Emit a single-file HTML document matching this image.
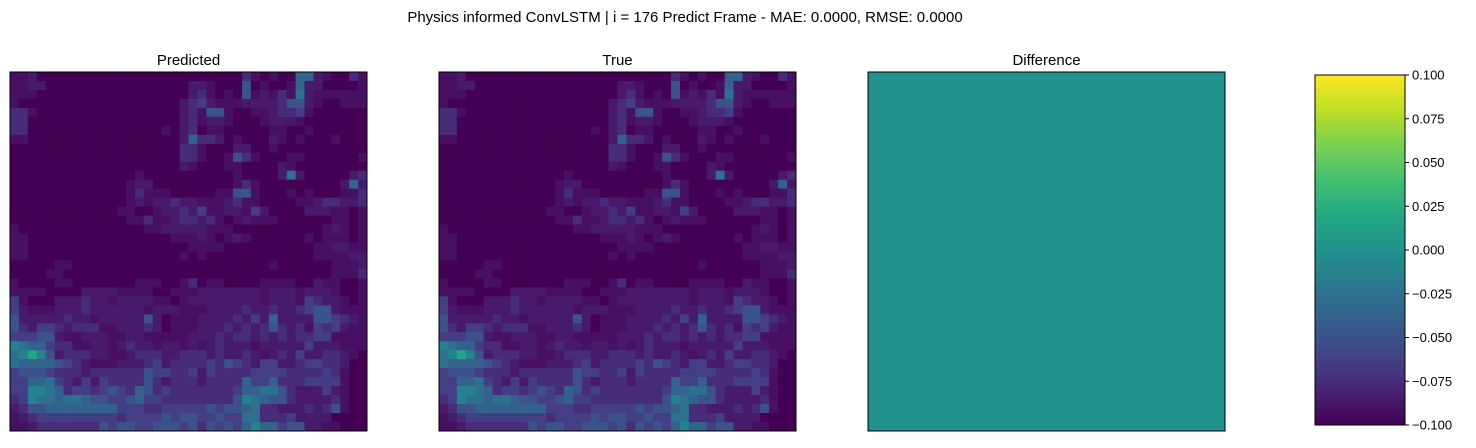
<!DOCTYPE html>
<html><head><meta charset="utf-8"><style>
body{margin:0;background:#fff;font-family:"Liberation Sans",sans-serif;}
svg text{font-family:"Liberation Sans",sans-serif;fill:#000}
</style></head><body>
<svg width="1476" height="443" viewBox="0 0 1476 443">
<defs><linearGradient id="vir" x1="0" y1="1" x2="0" y2="0">
<stop offset="0" stop-color="#440154"/><stop offset="0.1" stop-color="#482475"/><stop offset="0.2" stop-color="#414487"/><stop offset="0.3" stop-color="#355f8d"/><stop offset="0.4" stop-color="#2a788e"/><stop offset="0.5" stop-color="#21918c"/><stop offset="0.6" stop-color="#22a884"/><stop offset="0.7" stop-color="#44bf70"/><stop offset="0.8" stop-color="#7ad151"/><stop offset="0.9" stop-color="#bddf26"/><stop offset="1" stop-color="#fde725"/>
</linearGradient></defs>
<text x="685" y="22" text-anchor="middle" font-size="15">Physics informed ConvLSTM | i = 176 Predict Frame - MAE: 0.0000, RMSE: 0.0000</text>
<text x="188.5" y="65" text-anchor="middle" font-size="15">Predicted</text>
<text x="617.5" y="65" text-anchor="middle" font-size="15">True</text>
<text x="1046.5" y="65" text-anchor="middle" font-size="15">Difference</text>
<g id="pred"></g>
<g id="true"></g>
<rect x="10" y="72" width="357" height="359" fill="none" stroke="#000"/>
<rect x="439" y="72" width="357" height="359" fill="none" stroke="#000"/>
<rect x="868" y="72" width="357" height="359" fill="#21918c" stroke="#000"/>
<rect x="1315" y="75" width="90" height="350" fill="url(#vir)" stroke="#000"/>
<g id="cbticks"></g>
</svg>
<script>
const rows = [
"1120000000000000000000000031010066210031",
"1122000000000000000022100050100162200001",
"1110000000000000000023101051213172111111",
"1000000000000000000234211122223552100111",
"3310000000000000000231551001123341000000",
"3300000000000000000231221000122210000000",
"3300000000000000010230110000011001000000",
"1100000000000000000263320100021010001000",
"0000000000000000000331000220010000000000",
"0000000000000000000331001531000110000001",
"0000000000000000000210001100002100000000",
"0000000000000010000000000100002720000023",
"0000000000000122000000000131000000000262",
"0000000000000131110000011551000101000113",
"0000000000000121223221112311000011233223",
"0000000000001100122324112214200002221101",
"0000000000000113112332310121110000001101",
"1000000000000001122222111000000000012101",
"1100000000000000001112101210000001011101",
"1100000000000000000011110000000000112211",
"1100000000000000000101000000000000111122",
"0000011000000000000000000000010000001112",
"0000110000000000000000000000000000001113",
"1000011000000011100130110000111100211001",
"1111000022221111001112222222122212221001",
"4100022232212222110122222222122214322101",
"4211122232222221222111222232232234552111",
"5222223221222225201112222324262222554321",
"5324432333112223201112223232353231434211",
"4445521122211221111122232332323233441111",
"8766433112212322122121232221222224222111",
"7898523332211233322333232232123242233210",
"7666654321112223423333435432442234433200",
"4555433323333335443342433334444333343100",
"4466743242433335323332333364463334444100",
"4488763443454365343333333466775322242100",
"3487767765544564433333333587655322223100",
"2355666666664443344444545567332223235100",
"1234444444443444454554454477333422220000",
"1123333333545544555453545468664552211000"];
const tickValues = [0.100,0.075,0.050,0.025,0.000,-0.025,-0.050,-0.075,-0.100];
const palette = ["#440154","#471063","#481a6c","#472c7a","#433e85","#3b528b","#33638d","#2c728e","#26828e","#21a685"];
const NS="http://www.w3.org/2000/svg";
function draw(gid,x0,y0,w,h,name){
  const g=document.getElementById(gid);
  const n=rows.length, cw=w/40, ch=h/n;
  rows.forEach((r,i)=>{
    for(let j=0;j<40;j++){
      const v=+(r[j]||0);
      const c=document.createElementNS(NS,'rect');
      c.setAttribute('x',x0+j*cw);c.setAttribute('y',y0+i*ch);
      c.setAttribute('width',cw+0.5);c.setAttribute('height',ch+0.5);
      c.setAttribute('fill',palette[v]);
      
      
      g.appendChild(c);
    }
  });
}
draw('pred',10,72,357,359);
draw('true',439,72,357,359);
const tg=document.getElementById('cbticks');
const yOf=v=>75+(0.1-v)/0.2*350;
tickValues.forEach(v=>{
  const y=yOf(v);
  const l=document.createElementNS(NS,'line');
  l.setAttribute('x1',1405);l.setAttribute('x2',1409);l.setAttribute('y1',y);l.setAttribute('y2',y);l.setAttribute('stroke','#000');
  
  
  tg.appendChild(l);
  const t=document.createElementNS(NS,'text');
  t.setAttribute('x',1412);t.setAttribute('y',y+4.5);t.setAttribute('font-size','13');
  t.textContent=(v<0?'\u2212':'')+Math.abs(v).toFixed(3);
  
  
  tg.appendChild(t);
});
</script>
</body></html>
